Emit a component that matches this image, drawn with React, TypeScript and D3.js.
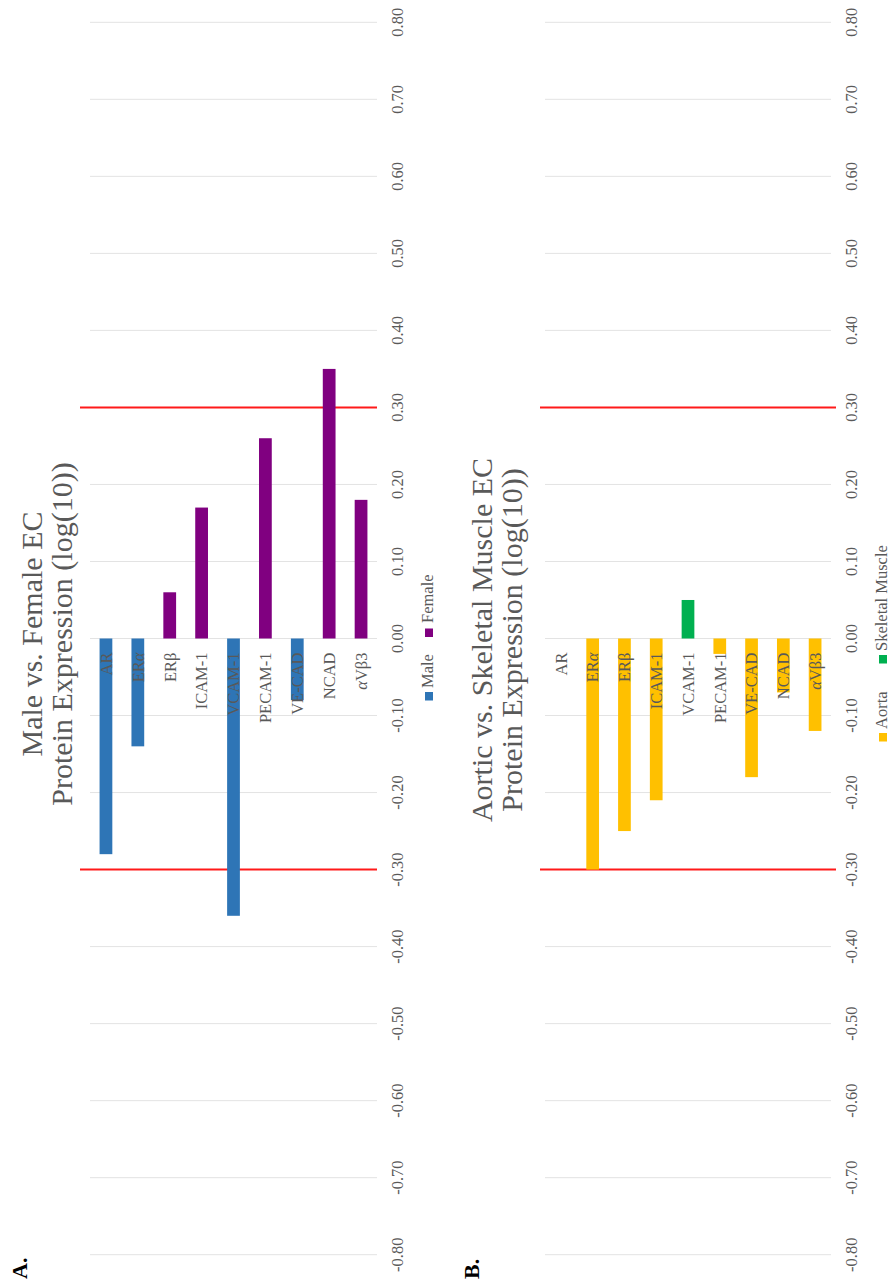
import React from "react";
import * as d3 from "d3";

// Protein targets shown on the category axis
const genes = ["AR", "ERα", "ERβ", "ICAM-1", "VCAM-1", "PECAM-1", "VE-CAD", "NCAD", "αVβ3"];

// Panel A: male vs. female log10 expression difference (negative = male, positive = female)
const sexDifference = [-0.28, -0.14, 0.06, 0.17, -0.36, 0.26, -0.08, 0.35, 0.18];

// Panel B: aortic vs. skeletal muscle log10 expression difference (negative = aorta, positive = skeletal muscle)
const tissueDifference = [0, -0.3, -0.25, -0.21, 0.05, -0.02, -0.18, -0.07, -0.12];

// Value axis ticks and significance threshold
const valueTicks = [0.8, 0.7, 0.6, 0.5, 0.4, 0.3, 0.2, 0.1, 0, -0.1, -0.2, -0.3, -0.4, -0.5, -0.6, -0.7, -0.8];
const thresholds = [0.3, -0.3];

const FONT = "'Liberation Serif', 'Times New Roman', serif";
const GREY = "#595959";

const y = d3.scaleLinear().domain([0.8, -0.8]).range([22.3, 1254.7]);
const fmt = (v: number) => d3.format(".2f")(v).replace("\u2212", "-");

type LegendItem = { label: string; color: string; squareY: number; textY: number };

type PanelProps = {
  values: number[];
  negColor: string;
  posColor: string;
  bandStart: number;
  bandEnd: number;
  redStart: number;
  redEnd: number;
  tickX: number;
  titleX: number;
  titleY: number;
  titleLines: string[];
  legendX: number;
  legend: LegendItem[];
  letter: string;
  letterX: number;
};

function GeneLabel({ name }: { name: string }) {
  // Greek alpha set in italics
  const parts = name.split(/(α)/).filter((p) => p.length > 0);
  return (
    <>
      {parts.map((p, i) =>
        p === "α" ? (
          <tspan key={i} fontStyle="italic">
            {p}
          </tspan>
        ) : (
          <tspan key={i}>{p}</tspan>
        )
      )}
    </>
  );
}

function Panel(p: PanelProps) {
  const x = d3
    .scaleBand<string>()
    .domain(genes)
    .range([p.bandStart, p.bandEnd])
    .paddingInner(0.6)
    .paddingOuter(0.3);
  const zero = y(0);
  return (
    <g>
      {valueTicks.map((t) => (
        <line
          key={"g" + t}
          x1={p.bandStart}
          x2={p.bandEnd}
          y1={y(t)}
          y2={y(t)}
          stroke="#e3e3e3"
          strokeWidth={1}
        />
      ))}
      {thresholds.map((t) => (
        <line key={"r" + t} x1={p.redStart} x2={p.redEnd} y1={y(t)} y2={y(t)} stroke="#ff1a1a" strokeWidth={2} />
      ))}
      {genes.map((g, i) => {
        const v = p.values[i];
        if (v === 0) return null;
        return (
          <rect
            key={"b" + g}
            x={x(g)}
            width={x.bandwidth()}
            y={Math.min(y(v), zero)}
            height={Math.abs(y(v) - zero)}
            fill={v < 0 ? p.negColor : p.posColor}
          />
        );
      })}
      {genes.map((g) => {
        const cx = (x(g) as number) + x.bandwidth() / 2;
        return (
          <text
            key={"l" + g}
            transform={`translate(${cx},${zero + 14}) rotate(-90)`}
            textAnchor="end"
            dy="0.35em"
            fontFamily={FONT}
            fontSize={16.5}
            fill={GREY}
          >
            <GeneLabel name={g} />
          </text>
        );
      })}
      {valueTicks.map((t) => (
        <text
          key={"t" + t}
          transform={`translate(${p.tickX},${y(t)}) rotate(-90)`}
          textAnchor="middle"
          fontFamily={FONT}
          fontSize={16.5}
          fill={GREY}
        >
          {fmt(t)}
        </text>
      ))}
      {p.titleLines.map((line, i) => (
        <text
          key={"ti" + i}
          transform={`translate(${p.titleX + i * 30},${p.titleY}) rotate(-90)`}
          textAnchor="middle"
          fontFamily={FONT}
          fontSize={30}
          fill={GREY}
        >
          {line}
        </text>
      ))}
      {p.legend.map((it) => (
        <g key={"lg" + it.label}>
          <rect x={p.legendX - 8} y={it.squareY} width={8} height={8.5} fill={it.color} />
          <text
            transform={`translate(${p.legendX},${it.textY}) rotate(-90)`}
            fontFamily={FONT}
            fontSize={16.5}
            fill={GREY}
          >
            {it.label}
          </text>
        </g>
      ))}
      <text
        transform={`translate(${p.letterX},1279) rotate(-90)`}
        fontFamily={FONT}
        fontSize={22}
        fontWeight="bold"
        fill="#000"
      >
        {p.letter}
      </text>
    </g>
  );
}

export default function App() {
  return (
    <svg
      width={892}
      height={1279}
      viewBox="0 0 892 1279"
      style={{ position: "absolute", left: 0, top: 0, background: "#fff" }}
    >
      <rect width={892} height={1279} fill="#fff" />
      <Panel
        values={sexDifference}
        negColor="#2e75b6"
        posColor="#800080"
        bandStart={90}
        bandEnd={377}
        redStart={80}
        redEnd={377}
        tickX={403}
        titleX={42}
        titleY={634}
        titleLines={["Male vs. Female EC", "Protein Expression (log(10))"]}
        legendX={433}
        legend={[
          { label: "Male", color: "#2e75b6", squareY: 692, textY: 688 },
          { label: "Female", color: "#800080", squareY: 628.5, textY: 623 },
        ]}
        letter="A."
        letterX={27}
      />
      <Panel
        values={tissueDifference}
        negColor="#ffc000"
        posColor="#00b050"
        bandStart={545}
        bandEnd={831}
        redStart={540}
        redEnd={836}
        tickX={857}
        titleX={492}
        titleY={640}
        titleLines={["Aortic vs. Skeletal Muscle EC", "Protein Expression (log(10))"]}
        legendX={887}
        legend={[
          { label: "Aorta", color: "#ffc000", squareY: 733, textY: 729 },
          { label: "Skeletal Muscle", color: "#00b050", squareY: 655, textY: 651 },
        ]}
        letter="B."
        letterX={479}
      />
    </svg>
  );
}
